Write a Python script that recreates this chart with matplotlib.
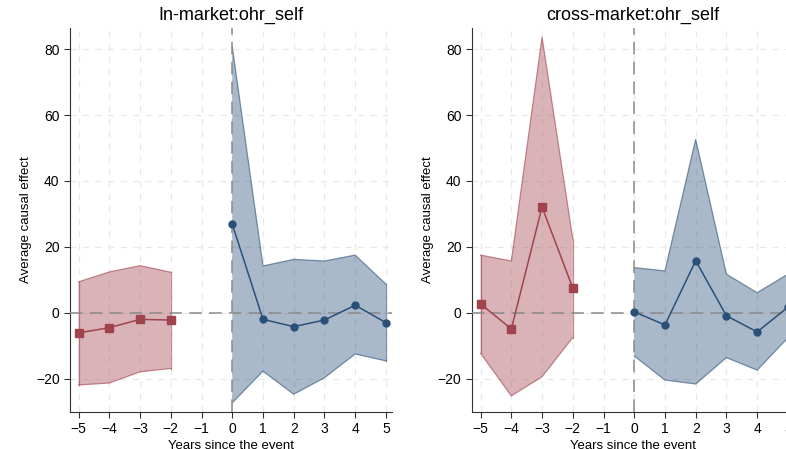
import matplotlib
matplotlib.use("Agg")
import matplotlib.pyplot as plt

plt.rcParams['font.family'] = ['Liberation Sans', 'DejaVu Sans']

pre_x = [-5, -4, -3, -2]
post_x = [0, 1, 2, 3, 4, 5]

# In-market
in_pre = [-6.1, -4.5, -2.0, -2.2]
in_pre_hi = [9.4, 12.4, 14.3, 12.3]
in_pre_lo = [-21.9, -21.3, -17.9, -16.9]
in_post = [26.9, -2.0, -4.2, -2.2, 2.3, -3.0]
in_post_hi = [80.7, 14.2, 16.2, 15.7, 17.5, 8.7]
in_post_lo = [-27.3, -17.7, -24.7, -19.7, -12.5, -14.6]

# cross-market
cr_pre = [2.7, -4.9, 32.1, 7.5]
cr_pre_hi = [17.5, 15.7, 83.6, 22.4]
cr_pre_lo = [-12.3, -25.2, -19.4, -7.5]
cr_post = [0.3, -3.7, 15.8, -0.9, -5.8, 1.7]
cr_post_hi = [13.7, 12.7, 52.6, 11.7, 6.1, 11.7]
cr_post_lo = [-13.1, -20.4, -21.6, -13.6, -17.4, -7.6]

titles = ["In-market:ohr_self", "cross-market:ohr_self"]
xticks = [-5, -4, -3, -2, -1, 0, 1, 2, 3, 4, 5]
yticks = [-20, 0, 20, 40, 60, 80]

red = '#a0434d'
blue = '#2b5078'

fig = plt.figure(figsize=(7.86, 4.49), dpi=100)
ax1 = fig.add_axes([0.0891, 0.0831, 0.4097, 0.8546])
ax2 = fig.add_axes([0.6005, 0.0831, 0.4097, 0.8546])

panels = [
    (ax1, in_pre, in_pre_hi, in_pre_lo, in_post, in_post_hi, in_post_lo),
    (ax2, cr_pre, cr_pre_hi, cr_pre_lo, cr_post, cr_post_hi, cr_post_lo),
]

for (ax, pre, pre_hi, pre_lo, post, post_hi, post_lo), title in zip(panels, titles):
    ax.set_xlim(-5.28, 5.2)
    ax.set_ylim(-30, 86.4)
    ax.set_xticks(xticks)
    ax.set_yticks(yticks)
    ax.grid(True, color='#e8e8e8', linestyle=(0, (5, 5)), linewidth=0.9, zorder=0)

    ax.fill_between(pre_x, pre_lo, pre_hi, facecolor=red, alpha=0.4, edgecolor='none', zorder=2)
    ax.plot(pre_x, pre_hi, color=red, alpha=0.6, linewidth=0.9, zorder=2)
    ax.plot(pre_x, pre_lo, color=red, alpha=0.6, linewidth=0.9, zorder=2)
    ax.plot([pre_x[0], pre_x[0]], [pre_lo[0], pre_hi[0]], color=red, alpha=0.6, linewidth=0.9, zorder=2)
    ax.plot([pre_x[-1], pre_x[-1]], [pre_lo[-1], pre_hi[-1]], color=red, alpha=0.6, linewidth=0.9, zorder=2)

    ax.fill_between(post_x, post_lo, post_hi, facecolor=blue, alpha=0.4, edgecolor='none', zorder=2)
    ax.plot(post_x, post_hi, color=blue, alpha=0.6, linewidth=0.9, zorder=2)
    ax.plot(post_x, post_lo, color=blue, alpha=0.6, linewidth=0.9, zorder=2)
    ax.plot([post_x[-1], post_x[-1]], [post_lo[-1], post_hi[-1]], color=blue, alpha=0.6, linewidth=0.9, zorder=2)

    ax.axhline(0, color='#8a8a8a', linestyle=(0, (7, 4)), linewidth=1.3, alpha=0.85, zorder=3)
    ax.axvline(0, color='#8a8a8a', linestyle=(0, (7, 4)), linewidth=1.3, alpha=0.85, zorder=3)

    ax.plot(pre_x, pre, color=red, linewidth=1.1, marker='s', markersize=6, zorder=4)
    ax.plot(post_x, post, color=blue, linewidth=1.1, marker='o', markersize=5, zorder=4)

    ax.spines['top'].set_visible(False)
    ax.spines['right'].set_visible(False)
    ax.spines['left'].set_color('#333333')
    ax.spines['bottom'].set_color('#333333')
    ax.tick_params(colors='#333333', labelsize=10, length=4, labelcolor='black')
    ax.set_title(title, fontsize=13, pad=6)
    ax.set_xlabel("Years since the event", fontsize=9.5, labelpad=3)
    ax.set_ylabel("Average causal effect", fontsize=9.5, labelpad=3)

fig.savefig("out.png", dpi=100)
